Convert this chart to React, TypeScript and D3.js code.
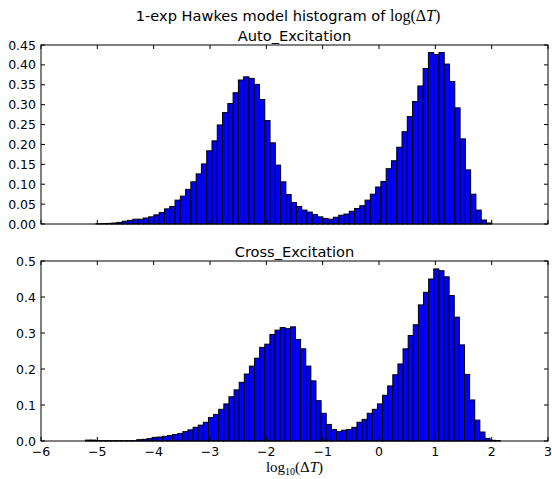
import React from 'react';
import * as d3 from 'd3';

const W = 552;
const H = 479;

// Auto_Excitation histogram: equal-width bins in log10(ΔT), normalised density
const autoStart = -5.026;
const autoWidth = 0.0937;
const autoDensity = [
  0.0005, 0.001, 0.0015,
  0.0025, 0.004, 0.007, 0.009, 0.012, 0.012, 0.015, 0.018, 0.023, 0.029,
  0.038, 0.044, 0.06, 0.07, 0.087, 0.106, 0.126, 0.151, 0.184, 0.209,
  0.249, 0.28, 0.303, 0.33, 0.362, 0.37, 0.366, 0.351, 0.313, 0.26,
  0.204, 0.148, 0.106, 0.074, 0.054, 0.044, 0.035, 0.03, 0.024, 0.018,
  0.014, 0.012, 0.017, 0.022, 0.025, 0.032, 0.039, 0.046, 0.06, 0.075,
  0.093, 0.107, 0.139, 0.159, 0.193, 0.232, 0.27, 0.308, 0.347, 0.391,
  0.431, 0.426, 0.431, 0.402, 0.358, 0.292, 0.214, 0.136, 0.075, 0.035,
  0.01, 0.0025,
];

// Cross_Excitation histogram
const crossStart = -5.209;
const crossWidth = 0.0909;
const crossDensity = [
  0.0025, 0.0025, 0.001, 0.001, 0.001, 0.001, 0.001, 0.001, 0.001, 0.001,
  0.0037, 0.0046, 0.0065, 0.01, 0.011, 0.013, 0.015, 0.018, 0.021, 0.026,
  0.031, 0.038, 0.044, 0.052, 0.065, 0.074, 0.088, 0.103, 0.123, 0.142,
  0.163, 0.186, 0.208, 0.23, 0.26, 0.269, 0.296, 0.308, 0.315, 0.312,
  0.317, 0.282, 0.256, 0.208, 0.167, 0.112, 0.077, 0.046, 0.032, 0.026,
  0.03, 0.032, 0.038, 0.052, 0.06, 0.077, 0.088, 0.103, 0.127, 0.153,
  0.184, 0.214, 0.256, 0.293, 0.323, 0.378, 0.413, 0.45, 0.478, 0.473,
  0.456, 0.404, 0.344, 0.267, 0.185, 0.114, 0.058, 0.025, 0.0074, 0.002,
  0.001,
];

const xTicks = [-6, -5, -4, -3, -2, -1, 0, 1, 2, 3];
const autoYTicks = [0, 0.05, 0.1, 0.15, 0.2, 0.25, 0.3, 0.35, 0.4, 0.45];
const crossYTicks = [0, 0.1, 0.2, 0.3, 0.4, 0.5];

const LEFT = 41;
const RIGHT = 548;
const SANS = '"DejaVu Sans", sans-serif';
const SERIF = '"Liberation Serif", "DejaVu Serif", serif';
const TICK_FONT = 12.5;

const xScale = d3.scaleLinear().domain([-6, 3]).range([LEFT, RIGHT]);

const minus = (s: string) => s.replace('-', '\u2212');

type PanelProps = {
  title: string;
  start: number;
  width: number;
  density: number[];
  yMax: number;
  yTicks: number[];
  yFormat: string;
  top: number;
  bottom: number;
  showXLabels: boolean;
};

function Panel(p: PanelProps) {
  const y = d3.scaleLinear().domain([0, p.yMax]).range([p.bottom, p.top]);
  const fmt = d3.format(p.yFormat);
  const tick = 4;
  return (
    <g>
      {p.density.map((v, i) => {
        const x0 = xScale(p.start + i * p.width);
        const x1 = xScale(p.start + (i + 1) * p.width);
        return (
          <rect
            key={i}
            x={x0}
            y={y(v)}
            width={x1 - x0}
            height={y(0) - y(v)}
            fill="#0000ff"
            stroke="#000"
            strokeWidth={1}
          />
        );
      })}
      <rect
        x={LEFT}
        y={p.top}
        width={RIGHT - LEFT}
        height={p.bottom - p.top}
        fill="none"
        stroke="#000"
        strokeWidth={1}
      />
      {p.yTicks.map((t) => (
        <g key={'y' + t}>
          <line x1={LEFT} x2={LEFT + tick} y1={y(t)} y2={y(t)} stroke="#000" />
          <line x1={RIGHT} x2={RIGHT - tick} y1={y(t)} y2={y(t)} stroke="#000" />
          <text
            x={LEFT - 5}
            y={y(t)}
            textAnchor="end"
            dominantBaseline="central"
            fontFamily={SANS}
            fontSize={TICK_FONT}
          >
            {fmt(t)}
          </text>
        </g>
      ))}
      {xTicks.map((t) => (
        <g key={'x' + t}>
          <line x1={xScale(t)} x2={xScale(t)} y1={p.bottom} y2={p.bottom - tick} stroke="#000" />
          <line x1={xScale(t)} x2={xScale(t)} y1={p.top} y2={p.top + tick} stroke="#000" />
          {p.showXLabels && (
            <text
              x={xScale(t)}
              y={p.bottom + 14.5}
              textAnchor="middle"
              fontFamily={SANS}
              fontSize={TICK_FONT}
            >
              {minus(String(t))}
            </text>
          )}
        </g>
      ))}
      <text
        x={(LEFT + RIGHT) / 2}
        y={p.top - 4}
        textAnchor="middle"
        fontFamily={SANS}
        fontSize={14.6}
      >
        {p.title}
      </text>
    </g>
  );
}

export default function App() {
  return (
    <svg
      width={W}
      height={H}
      style={{ position: 'absolute', left: 0, top: 0, background: '#fff' }}
    >
      <rect width={W} height={H} fill="#fff" />
      <text x={288} y={21} textAnchor="middle" fontFamily={SANS} fontSize={14.6}>
        1-exp Hawkes model histogram of{' '}
        <tspan fontFamily={SERIF} fontSize={16}>
          log(Δ<tspan fontStyle="italic">T</tspan>)
        </tspan>
      </text>
      <Panel
        title="Auto_Excitation"
        start={autoStart}
        width={autoWidth}
        density={autoDensity}
        yMax={0.45}
        yTicks={autoYTicks}
        yFormat=".2f"
        top={45}
        bottom={224}
        showXLabels={false}
      />
      <Panel
        title="Cross_Excitation"
        start={crossStart}
        width={crossWidth}
        density={crossDensity}
        yMax={0.5}
        yTicks={crossYTicks}
        yFormat=".1f"
        top={261}
        bottom={441}
        showXLabels={true}
      />
      <text x={(LEFT + RIGHT) / 2} y={472} textAnchor="middle" fontFamily={SERIF} fontSize={15}>
        log
        <tspan fontSize={10} dy={3}>10</tspan>
        <tspan dy={-3}>(Δ</tspan>
        <tspan fontStyle="italic">T</tspan>)
      </text>
    </svg>
  );
}
